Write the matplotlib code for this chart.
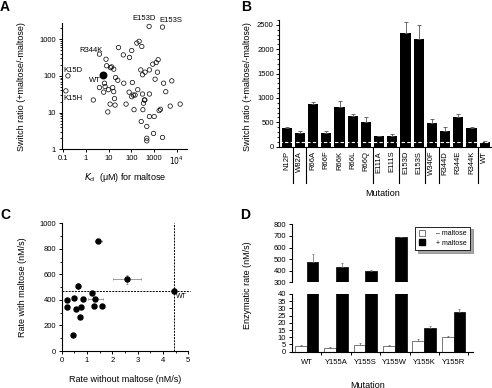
import numpy as np
import matplotlib
matplotlib.use('Agg')
import matplotlib.pyplot as plt
from matplotlib.ticker import MultipleLocator, LogLocator, NullFormatter, FixedLocator
from matplotlib.patches import Patch

plt.rcParams['font.family'] = ['Liberation Sans', 'DejaVu Sans']
plt.rcParams['font.size'] = 5.5
plt.rcParams['axes.linewidth'] = 0.8

# A: Kd vs switch ratio
kd = [173, 218, 287, 27, 103, 44, 82, 7.6, 8.1, 12, 13.5, 16.6, 870, 1230, 1500, 258, 620,
      307, 400, 1400, 1100, 2600, 6000, 3250, 110, 46, 20, 25, 6.5, 3.9, 6.9, 6, 9.7, 15,
      16.6, 2.1, 11.5, 19, 18, 58, 79, 103, 122, 145, 190, 307, 375, 390, 620, 340, 130, 320,
      1660, 1900, 5100, 14000, 9.1, 270, 620, 1000, 475, 940, 475, 475, 2330]
ratio = [780, 870, 630, 590, 490, 372, 316, 283, 188, 167, 175, 152, 208, 230, 275, 145, 145,
         107, 126, 126, 81, 63, 73, 37, 66, 63, 90, 76, 63, 48, 51, 36, 42, 48,
         37, 22, 17, 16, 24, 17, 36, 27, 30, 30, 42, 32, 22, 22, 32, 18, 12, 12,
         11.3, 12.3, 15, 17, 10.4, 5.7, 7.8, 7.8, 4.2, 2.7, 2.0, 1.7, 2.1]
named = ['E153D', 'E153S', 'R344K', 'K15D', 'K15H']
named_kd = [600, 2330, 3.9, 0.16, 0.13]
named_ratio = [2220, 2130, 390, 100, 39]
wt_kd, wt_ratio = 5.8, 104

# B: switch ratio per mutation
mutB = ['N12P', 'W82A', 'R66A', 'R66F', 'R66K', 'R66L', 'R66Q', 'E111A', 'E111S',
        'E153D', 'E153S', 'W340F', 'R344D', 'R344E', 'R344K', 'WT']
switch = [390, 280, 870, 280, 820, 640, 500, 215, 210, 2340, 2220, 490, 320, 610, 380, 100]
switch_err = [20, 40, 40, 40, 110, 30, 110, 5, 50, 220, 280, 70, 90, 60, 30, 20]
groups_end = [0.5, 1.5, 6.5, 8.5, 10.5, 11.5, 14.5]

# C: rate with vs without maltose
rate_minus = [1.45, 2.59, 0.64, 0.22, 0.22, 0.50, 0.84, 0.57, 0.75, 0.72, 1.18, 1.32, 1.28, 1.60, 0.46]
rate_plus = [859, 561, 509, 400, 347, 418, 410, 326, 342, 264, 452, 410, 355, 350, 123]
rate_minus_err = [0.13, 0.55, 0, 0, 0, 0, 0, 0, 0, 0, 0, 0.3, 0, 0, 0]
rate_plus_err = [12, 38, 25, 0, 0, 0, 0, 0, 0, 0, 8, 0, 0, 0, 0]
wt_minus, wt_plus = 4.45, 472

# D: enzymatic rate
mutD = ['WT', 'Y155A', 'Y155S', 'Y155W', 'Y155K', 'Y155R']
no_malt = [4.2, 2.9, 4.8, 3.9, 7.6, 10.1]
no_malt_err = [0.4, 0.4, 1.1, 0.4, 1.5, 0.6]
with_malt = [472, 429, 398, 688, 16.5, 27.5]
with_malt_err = [69, 40, 4, 6, 1.5, 1.8]

W, H = 492, 388
fig = plt.figure(figsize=(W / 100, H / 100), dpi=100)


def box(l, t, r, b):
    return fig.add_axes([l / W, 1 - b / H, (r - l) / W, (b - t) / H])


def style(ax):
    ax.spines['top'].set_visible(False)
    ax.spines['right'].set_visible(False)
    ax.tick_params(which='major', direction='out', length=2.5, width=0.7, pad=1.5, labelsize=5.5)
    ax.tick_params(which='minor', direction='out', length=1.5, width=0.6)


def ftext(x, y, s, **kw):
    fig.text(x / W, 1 - y / H, s, **kw)


# ---- A ----
axA = box(61.7, 22.7, 187, 149.3)
style(axA)
axA.set_xscale('log')
axA.set_yscale('log')
axA.scatter(kd, ratio, s=10, facecolors='none', edgecolors='black', linewidths=0.5, clip_on=False)
axA.scatter(named_kd, named_ratio, s=10, facecolors='none', edgecolors='black', linewidths=0.5, clip_on=False)
axA.scatter([wt_kd], [wt_ratio], s=22, color='black', clip_on=False)
axA.set_xlim(0.085, 2.8e4)
axA.set_ylim(1, 2800)
axA.xaxis.set_major_locator(FixedLocator([0.1, 1, 10, 100, 1000, 1e4]))
axA.set_xticklabels(['0.1', '1', '10', '100', '1000', '$10^4$'])
axA.xaxis.set_minor_locator(LogLocator(base=10, subs=np.arange(2, 10)))
axA.xaxis.set_minor_formatter(NullFormatter())
axA.yaxis.set_major_locator(FixedLocator([1, 10, 100, 1000]))
axA.set_yticklabels(['1', '10', '100', '1000'])
axA.yaxis.set_minor_locator(LogLocator(base=10, subs=np.arange(2, 10)))
axA.yaxis.set_minor_formatter(NullFormatter())
for name, px, py in [('E153D', 144, 19), ('E153S', 171, 20), ('R344K', 90.7, 50),
                     ('K15D', 73, 70), ('WT', 95, 80.7), ('K15H', 73, 98.7)]:
    ftext(px, py, name, ha='center', va='center', fontsize=5.5)
ftext(22, 87, 'Switch ratio (+maltose/-maltose)', rotation=90, ha='center', va='center', fontsize=6.5)
ftext(125, 178, r'$K_\mathrm{d}$  (μM) for maltose', ha='center', va='center', fontsize=6.5)

# ---- B ----
axB = box(279.3, 20, 492, 146.7)
style(axB)
xb = np.arange(len(mutB))
axB.bar(xb, switch, width=0.77, color='black')
axB.errorbar(xb, switch, yerr=[np.zeros(len(switch)), switch_err], fmt='none',
             ecolor='#555555', elinewidth=0.6, capsize=1.2, capthick=0.6)
axB.axhline(100, color='white', ls=(0, (3, 2)), lw=0.8)
axB.set_xlim(-0.56, 15.55)
axB.set_ylim(0, 2600)
axB.yaxis.set_major_locator(MultipleLocator(500))
axB.yaxis.set_minor_locator(MultipleLocator(100))
axB.set_xticks(xb)
axB.set_xticklabels(mutB, rotation=90, fontsize=5.5)
axB.tick_params(axis='x', length=0, pad=3)
for g in groups_end:
    axB.plot([g, g], [0, -750], color='black', lw=0.8, clip_on=False)
ftext(247, 87, 'Switch ratio (+maltose/-maltose)', rotation=90, ha='center', va='center', fontsize=6.5)
ftext(383, 193.5, 'Mutation', ha='center', va='center', fontsize=6.5)

# ---- C ----
axC = box(61.7, 223.3, 188.3, 351)
style(axC)
axC.errorbar(rate_minus, rate_plus, xerr=rate_minus_err, yerr=rate_plus_err, fmt='o', ms=3.6,
             color='black', ecolor='#777777', elinewidth=0.5, capsize=1, capthick=0.5)
axC.errorbar([wt_minus], [wt_plus], xerr=[0.05], yerr=[25], fmt='o', ms=3.6,
             color='black', ecolor='#777777', elinewidth=0.5, capsize=1, capthick=0.5, clip_on=False)
axC.axhline(wt_plus, xmax=1.015, color='black', ls=(0, (2, 1.2)), lw=0.7, clip_on=False)
axC.axvline(wt_minus, color='black', ls=(0, (2, 1.2)), lw=0.7)
axC.text(wt_minus + 0.08, wt_plus - 45, 'WT', fontsize=5, ha='left', va='center')
axC.set_xlim(0, 5)
axC.set_ylim(0, 1000)
axC.xaxis.set_major_locator(MultipleLocator(1))
axC.xaxis.set_minor_locator(MultipleLocator(0.5))
axC.yaxis.set_major_locator(MultipleLocator(200))
axC.yaxis.set_minor_locator(MultipleLocator(100))
ftext(22.7, 287, 'Rate with maltose (nM/s)', rotation=90, ha='center', va='center', fontsize=6.5)
ftext(125, 379, 'Rate without maltose (nM/s)', ha='center', va='center', fontsize=6.5)

# ---- D ----
xd = np.arange(len(mutD))
bw = 0.4
axDu = box(291.7, 224.3, 473.3, 282.3)
axDl = box(291.7, 294, 473.3, 351.7)
for ax in (axDu, axDl):
    style(ax)
    ax.bar(xd - bw / 2, no_malt, width=bw, color='white', edgecolor='#444444', lw=0.5)
    ax.bar(xd + bw / 2, with_malt, width=bw, color='black', edgecolor='black', lw=0.5)
    ax.set_xlim(-0.51, 5.67)
axDu.errorbar(xd + bw / 2, with_malt, yerr=[np.zeros(6), with_malt_err], fmt='none',
              ecolor='#666666', elinewidth=0.5, capsize=1, capthick=0.5)
axDl.errorbar(xd[4:] + bw / 2, with_malt[4:], yerr=[np.zeros(2), with_malt_err[4:]], fmt='none',
              ecolor='#666666', elinewidth=0.5, capsize=1, capthick=0.5)
axDl.errorbar(xd - bw / 2, no_malt, yerr=[np.zeros(6), no_malt_err], fmt='none',
              ecolor='#666666', elinewidth=0.5, capsize=1, capthick=0.5)
axDu.set_ylim(300, 800)
axDu.yaxis.set_major_locator(MultipleLocator(100))
axDu.spines['bottom'].set_visible(False)
axDu.set_xticks([])
axDl.set_ylim(0, 40)
axDl.yaxis.set_major_locator(MultipleLocator(5))
axDl.set_xticks(xd + 0.5, minor=True)
axDl.set_xticks(xd)
axDl.set_xticklabels(mutD, fontsize=5.5)
axDl.tick_params(axis='x', which='major', length=0, pad=5)
axDl.tick_params(axis='x', which='minor', length=2.5, width=0.7)
leg = axDu.legend(handles=[Patch(facecolor='white', edgecolor='#444444', lw=0.5, label='– maltose'),
                           Patch(facecolor='black', edgecolor='black', label='+ maltose')],
                  loc='upper right', bbox_to_anchor=(1.0, 1.02), fontsize=5, frameon=True,
                  fancybox=False, shadow=True, edgecolor='black', handlelength=0.9,
                  handleheight=0.9, borderpad=0.5, labelspacing=0.3, handletextpad=1.5)
leg.get_frame().set_linewidth(0.6)
ftext(247, 285, 'Enzymatic rate (nM/s)', rotation=90, ha='center', va='center', fontsize=6.5)
ftext(368, 385, 'Mutation', ha='center', va='center', fontsize=6.5)

# panel letters
for letter, px, py in [('A', 5, 7), ('B', 246, 7), ('C', 5, 215), ('D', 245, 215)]:
    ftext(px, py, letter, ha='center', va='center', fontsize=10, fontweight='bold')

fig.savefig('out.png', dpi=100)
